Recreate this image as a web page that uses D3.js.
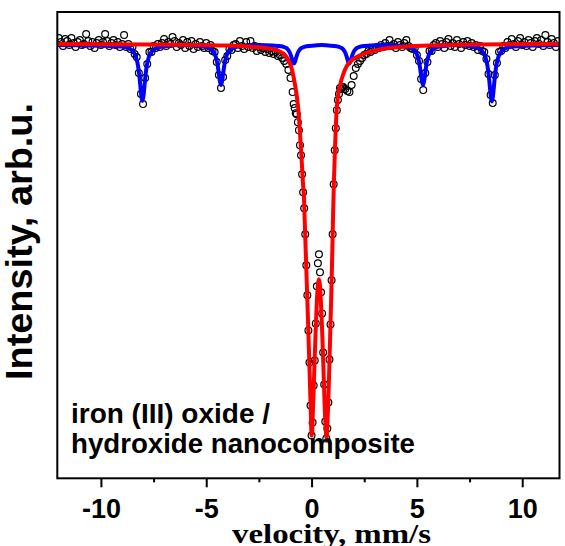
<!DOCTYPE html>
<html><head><meta charset="utf-8">
<script src="https://cdn.jsdelivr.net/npm/d3@7"></script>
<style>body{margin:0;background:#fff}</style>
</head><body>
<svg id="c" width="565" height="546"></svg>
<script>
// ---- measured spectrum (relative transmission, baseline = 100) ----
// channel grids: left block, dense doublet block, right block
const leftStart = -12.0, leftStep = 0.1;
const leftT = [
 100.6,100.2,99.8,100.5,100.3,99.9,100.6,100.1,99.7,100.2,100.4,99.9,100.0,101.0,100.3,99.8,100.2,99.6,100.1,100.4,99.9,100.2,101.0,100.3,99.8,100.1,100.4,99.9,100.2,99.7,100.0,
 100.9,99.7,100.0,99.5,99.7,99.0,98.7,97.1,95.0,94.0,96.6,98.0,99.2,99.2,99.8,99.6,100.0,99.7,100.1,
 100.5,99.8,100.2,100.0,100.7,100.3,99.7,100.1,99.9,100.4,99.6,100.2,99.8,100.3,99.5,100.0,99.7,100.2,99.8,99.6,100.1,
 99.6,99.9,99.3,99.2,98.2,96.9,95.6,96.7,98.4,98.8,99.5,99.4,99.9,
 100.0,99.6,100.3,99.8,99.5,100.2,99.7,100.3,99.6,99.8,99.3,99.7,99.4,99.6,99.2,99.5,99.1,
 99.3,99.0,99.2,98.8,98.9,98.6,98.3,98.0,97.4,96.6,95.2
];
const midStart = -0.85, midStep = 0.05;
const midT = [
 94.0,93.6,93.1,93.0,92.2,91.4,89.9,88.9,87.0,85.2,83.6,81.0,77.9,74.9,71.4,68.2,63.9,
 60.9,62.2,65.9,68.4,72.1,75.8,78.1,79.0,77.2,75.2,73.1,69.2,66.0,62.3,60.6,61.6,64.2,68.5,72.0,76.4,81.0,86.0,89.4,91.6,93.4,94.4,95.0,95.6,95.5,95.7
];
const rightStart = 1.5, rightStep = 0.1;
const rightT = [
 95.7,95.5,95.3,95.2,95.9,96.8,97.6,98.0,98.3,98.6,98.9,99.0,99.3,99.2,99.5,99.4,99.7,99.6,99.9,99.7,100.1,99.8,
 100.4,99.8,100.0,99.6,100.2,99.9,99.7,100.1,100.4,99.8,99.6,
 99.5,99.6,98.9,98.3,96.5,95.4,97.1,98.2,99.3,99.3,99.9,
 100.1,99.7,100.3,100.0,99.6,100.2,100.5,99.8,100.1,99.7,100.4,100.0,99.6,100.2,99.9,100.3,99.8,100.1,99.7,99.9,99.4,
 99.8,99.3,99.2,98.5,97.0,94.9,94.1,96.9,98.1,99.2,99.3,99.8,99.6,
 100.2,99.9,100.5,100.0,99.7,100.3,100.6,99.9,100.2,99.8,100.4,100.1,99.7,100.3,100.6,100.0,100.4,99.8,100.9,100.2,99.9,100.5,100.1,99.7,100.3
];

// ---- fitted doublet subspectrum (red) ----
const redV = [-12.07,-7.664,-5.294,-3.872,-2.924,-2.213,-1.597,-1.218,-0.948,-0.791,-0.635,-0.555,-0.474,-0.412,-0.355,-0.318,-0.270,-0.223,-0.175,-0.128,-0.081,-0.033,0,0.028,0.062,0.109,0.156,0.204,0.251,0.299,0.346,0.393,0.441,0.488,0.536,0.583,0.630,0.678,0.711,0.749,0.796,0.844,0.891,0.938,0.986,1.024,1.066,1.118,1.185,1.270,1.365,1.507,1.673,1.863,2.147,2.526,3.237,4.185,5.607,7.976,11.77];
const redT = [100.0,99.95,99.9,99.85,99.75,99.6,99.35,98.8,97.6,96.0,93.6,91.3,88.6,86.2,84.4,81.9,78.9,75.9,72.8,69.6,66.4,63.1,60.9,61.2,63.2,66.1,69.0,71.9,74.3,75.9,76.5,76.0,74.4,72.2,69.4,66.4,63.4,61.4,60.7,61.9,64.4,67.9,71.4,75.1,79.4,83.2,86.6,89.9,93.2,95.0,96.0,97.0,97.8,98.3,98.7,99.05,99.45,99.7,99.85,99.95,100.0];

// ---- fitted sextet subspectrum (blue) ----
const blueV = [-12.07,
 -9.03,-8.63,-8.43,-8.33,-8.23,-8.18,-8.13,-8.08,-8.03,-7.98,-7.93,-7.88,-7.83,-7.73,-7.63,-7.43,-7.03,
 -6.2,
 -5.30,-4.90,-4.70,-4.60,-4.50,-4.45,-4.40,-4.35,-4.30,-4.25,-4.20,-4.15,-4.10,-4.00,-3.90,-3.70,-3.30,
 -2.6,
 -1.84,-1.44,-1.24,-1.14,-1.04,-0.99,-0.94,-0.89,-0.84,-0.79,-0.74,-0.69,-0.64,-0.54,-0.44,-0.24,0.16,
 0.48,
 0.79,1.19,1.39,1.49,1.59,1.64,1.69,1.74,1.79,1.84,1.89,1.94,1.99,2.09,2.19,2.39,2.79,
 3.5,
 4.29,4.69,4.89,4.99,5.09,5.14,5.19,5.24,5.29,5.34,5.39,5.44,5.49,5.59,5.69,5.89,6.29,
 6.9,
 7.56,7.96,8.16,8.26,8.36,8.41,8.46,8.51,8.56,8.61,8.66,8.71,8.76,8.86,8.96,9.16,9.56,
 11.77];
const blueT = [99.9,
 99.76,99.53,99.13,98.66,97.72,96.92,95.87,94.8,94.3,94.8,95.87,96.92,97.72,98.66,99.13,99.53,99.76,
 99.9,
 99.8,99.64,99.35,99.02,98.34,97.77,97.02,96.26,95.9,96.26,97.02,97.77,98.34,99.02,99.35,99.64,99.8,
 99.9,
 99.85,99.78,99.64,99.49,99.18,98.92,98.57,98.21,98.05,98.21,98.57,98.92,99.18,99.49,99.64,99.78,99.85,
 99.9,
 99.85,99.78,99.64,99.49,99.18,98.92,98.57,98.21,98.05,98.21,98.57,98.92,99.18,99.49,99.64,99.78,99.85,
 99.9,
 99.8,99.64,99.35,99.02,98.34,97.77,97.02,96.26,95.9,96.26,97.02,97.77,98.34,99.02,99.35,99.64,99.8,
 99.9,
 99.76,99.53,99.12,98.65,97.70,96.89,95.84,94.75,94.25,94.75,95.84,96.89,97.70,98.65,99.12,99.53,99.76,
 99.9];

const majorTicks = [-10, -5, 0, 5, 10];
const minorTicks = [-7.5, -2.5, 2.5, 7.5];
const xTitle = "velocity, mm/s";
const yTitle = "Intensity, arb.u.";
const noteLines = ["iron (III) oxide /", "hydroxide nanocomposite"];
const noteWidths = [199, 344];

// ---- build ----
const block = (start, step, arr) => arr.map((t, i) => ({v: +(start + i * step).toFixed(3), t}));
const points = [...block(leftStart, leftStep, leftT), ...block(midStart, midStep, midT), ...block(rightStart, rightStep, rightT)];
const red = redV.map((v, i) => ({v, t: redT[i]}));
const blue = blueV.map((v, i) => ({v, t: blueT[i]}));

const L = 57.3, R = 559.5, T = 12, B = 478.3;
const x = d3.scaleLinear().domain([-12.07, 11.77]).range([L, R]);
const y = d3.scaleLinear().domain([56.63, 103.2]).range([B, T]);

const svg = d3.select("#c");
const sans = "'Liberation Sans', Arial, Helvetica, sans-serif";
const serif = "'Liberation Serif', 'Times New Roman', serif";

svg.append("defs").append("clipPath").attr("id", "clip")
  .append("rect").attr("x", L).attr("y", T).attr("width", R - L).attr("height", B - T);

const plot = svg.append("g").attr("clip-path", "url(#clip)");

plot.append("g").selectAll("circle").data(points).join("circle")
  .attr("cx", d => x(d.v)).attr("cy", d => y(d.t)).attr("r", 3.4)
  .attr("fill", "none").attr("stroke", "#000").attr("stroke-width", 1.2);

const line = d3.line().x(d => x(d.v)).y(d => y(d.t)).curve(d3.curveMonotoneX);
plot.append("path").datum(blue).attr("d", line)
  .attr("fill", "none").attr("stroke", "#0000ff").attr("stroke-width", 4).attr("stroke-linejoin", "round");
plot.append("path").datum(red).attr("d", line)
  .attr("fill", "none").attr("stroke", "#ff0000").attr("stroke-width", 4).attr("stroke-linejoin", "round");

// frame
svg.append("rect").attr("x", L).attr("y", T).attr("width", R - L).attr("height", B - T)
  .attr("fill", "none").attr("stroke", "#000").attr("stroke-width", 2);

// axes
const axMajor = svg.append("g").attr("transform", `translate(0,${B})`)
  .call(d3.axisBottom(x).tickValues(majorTicks).tickSize(9).tickFormat(d => String(d)));
axMajor.select(".domain").remove();
axMajor.selectAll("line").attr("stroke-width", 2);
axMajor.selectAll("text").attr("y", 40).attr("dy", 0)
  .attr("font-family", sans).attr("font-weight", "bold").attr("font-size", 27).attr("fill", "#000");

const axMinor = svg.append("g").attr("transform", `translate(0,${B})`)
  .call(d3.axisBottom(x).tickValues(minorTicks).tickSize(4).tickFormat(""));
axMinor.select(".domain").remove();
axMinor.selectAll("line").attr("stroke-width", 2);

// titles
svg.append("text").attr("x", 232).attr("y", 542.7).text(xTitle)
  .attr("font-family", serif).attr("font-weight", "bold").attr("font-size", 27)
  .attr("textLength", 199).attr("lengthAdjust", "spacingAndGlyphs");

svg.append("text").attr("transform", "translate(32,241.5) rotate(-90)")
  .attr("text-anchor", "middle").text(yTitle)
  .attr("font-family", sans).attr("font-weight", "bold").attr("font-size", 36)
  .attr("textLength", 277).attr("lengthAdjust", "spacingAndGlyphs");

svg.append("g").selectAll("text").data(noteLines).join("text")
  .attr("x", 71).attr("y", (d, i) => 423.3 + i * 30).text(d => d)
  .attr("font-family", sans).attr("font-weight", "bold").attr("font-size", 27)
  .attr("textLength", (d, i) => noteWidths[i]).attr("lengthAdjust", "spacingAndGlyphs");
</script>
</body></html>
